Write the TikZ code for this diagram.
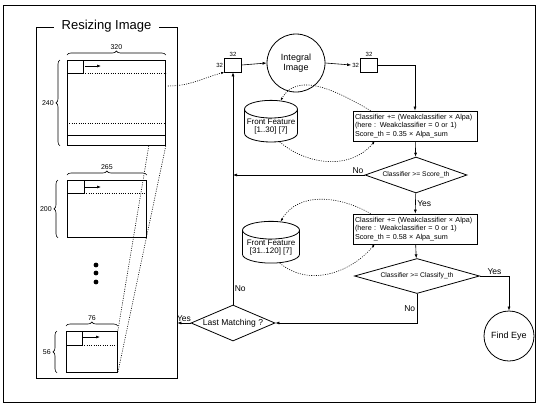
\documentclass[tikz,border=0pt]{standalone}
\usepackage{fontspec}
\setmainfont{Liberation Sans}
\usetikzlibrary{
  arrows.meta,
  positioning,
  shapes.geometric,
  calc,
  decorations.pathreplacing
}

\begin{document}
\begin{tikzpicture}[
  x=1pt, y=1pt,
  fs/.style={font=\fontsize{#1}{#1}\selectfont},
  imgbox/.style={draw, thick, anchor=north west, inner sep=0pt},
  smallbox/.style={draw, semithick, minimum width=17, minimum height=14, inner sep=0pt},
  num/.style={fs=6, inner sep=1pt},
  size/.style={fs=7, inner sep=1pt},
  clsbox/.style={draw, thick, align=left, text width=120, inner sep=2pt, minimum height=30,
    font=\fontsize{7.2}{8.6}\selectfont},
  decision/.style={draw, thick, diamond, aspect=2.8, inner sep=0pt},
  feature/.style={draw, thick, cylinder, shape border rotate=90, aspect=0.35,
    align=center, inner sep=1pt, fs=8},
  lbl/.style={fs=8.5, inner sep=1.5pt},
  arrow/.style={-{Latex[length=4pt,width=3pt]}, semithick},
  dotline/.style={semithick, dash pattern=on 1pt off 1.3pt},
  dotarrow/.style={dotline, -{Latex[length=3pt,width=2.5pt]}},
  brace/.style={decorate, decoration={brace, amplitude=4pt}, semithick}
]
  \useasboundingbox (0,0) rectangle (538,-407);

  % Outer frame
  \draw[line width=1pt] (3,-5) rectangle (535,-402);

  % Resizing Image
  \node[draw, thick, minimum width=141, minimum height=351, inner sep=0pt] (resize)
    at (106.5,-202.5) {};
  \node[fill=white, fs=13, inner xsep=8pt, inner ysep=1pt] (title) at (resize.north)
    {Resizing Image};

  % 320 x 240
  \node[imgbox, minimum width=98, minimum height=85] (img1) at (67,-60) {};
  \draw[thick] (img1.north west) rectangle ++(16,-13);
  \draw[arrow] ($(img1.north west)+(18,-6)$) -- ++(16,0);
  \draw[dotline] ($(img1.north west)+(16,-13)$) -- ($(img1.north east)+(0,-13)$);
  \draw[dotline] ($(img1.south west)+(0,23)$) -- ($(img1.south east)+(0,23)$);
  \draw[thick] ($(img1.south west)+(0,10)$) -- ($(img1.south east)+(0,10)$);
  \draw[brace] ($(img1.north west)+(0,5)$) -- ($(img1.north east)+(0,5)$)
    node[midway, above=4pt, size] (w1) {320};
  \draw[brace] ($(img1.south west)+(-7,0)$) -- ($(img1.north west)+(-7,0)$)
    node[midway, left=5pt, size] (h1) {240};

  % 265 x 200
  \node[imgbox, minimum width=79, minimum height=57] (img2) at (67,-180) {};
  \draw[thick] (img2.north west) rectangle ++(17,-13);
  \draw[arrow] ($(img2.north west)+(18,-7)$) -- ++(16,0);
  \draw[dotline] ($(img2.north west)+(17,-13)$) -- ($(img2.north east)+(0,-13)$);
  \draw[brace] ($(img2.north west)+(0,5)$) -- ($(img2.north east)+(0,5)$)
    node[midway, above=4pt, size] (w2) {265};
  \draw[brace] ($(img2.south west)+(-9,0)$) -- ($(img2.north west)+(-9,0)$)
    node[midway, left=5pt, size] (h2) {200};

  \foreach \y in {265,273,282}
    \fill (96,-\y) circle (2.4);

  % 76 x 56
  \node[imgbox, minimum width=51, minimum height=41] (img3) at (66,-331) {};
  \draw[thick] (img3.north west) rectangle ++(16,-14);
  \draw[arrow] ($(img3.north west)+(17,-6)$) -- ++(17,0);
  \draw[dotline] ($(img3.north west)+(16,-14)$) -- ($(img3.north east)+(0,-14)$);
  \draw[brace] ($(img3.north west)+(0,5)$) -- ($(img3.north east)+(0,5)$)
    node[midway, above=4pt, size] (w3) {76};
  \draw[brace] ($(img3.south west)+(-9,0)$) -- ($(img3.north west)+(-9,0)$)
    node[midway, left=5pt, size] (h3) {56};

  \draw[dotline] ($(img1.south east)+(-17,0)$) -- (img3.north east);
  \draw[dotline] (img1.south east) -- (img3.south east);

  % Integral image
  \node[smallbox] (in32) at (233,-65) {};
  \node[num, above=0pt of in32] (in32t) {32};
  \node[num, left=0pt of in32] (in32l) {32};
  \node[draw, thick, circle, minimum size=58, align=center, fs=9] (integral)
    at (296,-63) {Integral\\[1pt]Image};
  \node[smallbox] (out32) at (369,-65) {};
  \node[num, above=0pt of out32] (out32t) {32};
  \node[num, left=0pt of out32] (out32l) {32};

  % Stage 1
  \node[clsbox] (cls1) at (415,-126) {
    Classifier += (Weakclassifier × Alpa)\\
    (here : Weakclassifier = 0 or 1)\\
    Score\_th = 0.35 × Alpa\_sum
  };
  \node[feature, minimum width=53, minimum height=40] (feat1) at (271,-127)
    {Front Feature\\{[}1..30{]} {[}7{]}};
  \node[decision, minimum width=102, minimum height=36, fs=6.8] (dec1) at (416,-175)
    {Classifier >= Score\_th};

  % Stage 2
  \node[clsbox] (cls2) at (415,-229) {
    Classifier += (Weakclassifier × Alpa)\\
    (here : Weakclassifier = 0 or 1)\\
    Score\_th = 0.58 × Alpa\_sum
  };
  \node[feature, minimum width=57, minimum height=40] (feat2) at (271,-248)
    {Front Feature\\{[}31..120{]} {[}7{]}};
  \node[decision, minimum width=125, minimum height=35, fs=6.8] (dec2) at (417,-276)
    {Classifier >= Classify\_th};

  % Result
  \node[draw, thick, circle, minimum size=50, fs=9] (eye) at (509,-336) {Find Eye};
  \node[decision, minimum width=84, minimum height=36, fs=8.5] (last) at (233,-323)
    {Last Matching ?};

  % Arrows
  \draw[dotarrow] ($(img1.north east)+(2,-26)$) to[out=0, in=195] (in32.south west);
  \draw[arrow] (in32.east) -- (integral.west);
  \draw[arrow] (integral.east) -- (out32l.west);
  \draw[arrow] (out32.east) -| (cls1.north);
  \draw[arrow] (cls1) -- (dec1);
  \draw[arrow] (dec1) -- node[right, lbl] {Yes} (cls2);
  \draw[arrow] (dec1.west) -- node[above, lbl, pos=0.05] {No} (dec1.west -| last.north);
  \draw[arrow] (cls2) -- (dec2);
  \draw[arrow] (dec2.east) -| node[above, lbl, pos=0.25] {Yes} (eye.north);
  \draw[arrow] (dec2.south) |- node[left, lbl, pos=0.25] {No} (last.east);
  \draw[arrow] (last.north) -- node[right, lbl, pos=0.07] {No} (in32.south);
  \draw[arrow] (last.west) -- node[above, lbl] {Yes} (last.west -| resize.east);

  % Feature lookups
  \draw[dotarrow] ($(cls1.north west)+(18,0)$) to[out=150, in=60] (feat1.70);
  \draw[dotarrow] (feat1.-60) to[out=-40, in=-130] ($(cls1.south west)+(22,0)$);
  \draw[dotarrow] ($(cls2.north west)+(18,0)$) to[out=150, in=60] (feat2.70);
  \draw[dotarrow] (feat2.-60) to[out=-40, in=-130] ($(cls2.south west)+(22,0)$);

\end{tikzpicture}
\end{document}
